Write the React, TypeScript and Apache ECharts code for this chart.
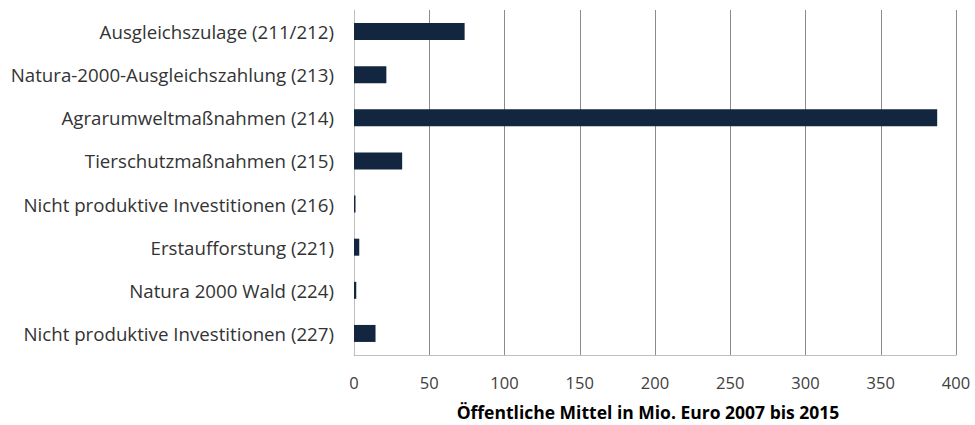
import React, { useEffect, useRef } from "react";
import * as echarts from "echarts";

const categories = [
  "Ausgleichszulage (211/212)",
  "Natura-2000-Ausgleichszahlung (213)",
  "Agrarumweltmaßnahmen (214)",
  "Tierschutzmaßnahmen (215)",
  "Nicht produktive Investitionen (216)",
  "Erstaufforstung (221)",
  "Natura 2000 Wald (224)",
  "Nicht produktive Investitionen (227)",
];
const values = [73.5, 21.5, 387.5, 32, 1, 3.5, 1.5, 14.3];
const axisTitle = "Öffentliche Mittel in Mio. Euro 2007 bis 2015";
const font = "'Open Sans', 'Noto Sans', sans-serif";

export default function App() {
  const ref = useRef<HTMLDivElement>(null);
  useEffect(() => {
    if (!ref.current) return;
    const chart = echarts.init(ref.current, null, { renderer: "svg" });
    chart.setOption({
      animation: false,
      backgroundColor: "#ffffff",
      grid: {
        left: 354,
        right: 19,
        top: 10,
        bottom: 70,
        containLabel: false,
        outerBoundsMode: "none",
      },
      xAxis: {
        type: "value",
        min: 0,
        max: 400,
        interval: 50,
        name: axisTitle,
        nameLocation: "middle",
        nameGap: 48,
        nameTextStyle: {
          fontFamily: font,
          fontSize: 17.5,
          fontWeight: "bold",
          color: "#000000",
          padding: [0, 14, 0, 0],
        },
        axisLine: { show: true, lineStyle: { color: "#bfbfbf", width: 1 } },
        axisTick: { show: false },
        axisLabel: { fontFamily: font, fontSize: 16.5, color: "#404040", margin: 19 },
        splitLine: { show: true, lineStyle: { color: "#8c8c8c", width: 1 } },
      },
      yAxis: {
        type: "category",
        data: categories,
        inverse: true,
        axisLine: { show: true, lineStyle: { color: "#bfbfbf", width: 1 } },
        axisTick: { show: false },
        axisLabel: { fontFamily: font, fontSize: 18.7, color: "#333333", margin: 20 },
        splitLine: { show: false },
      },
      series: [
        {
          type: "bar",
          data: values,
          barWidth: 17,
          itemStyle: { color: "#12263f" },
        },
      ],
    });
    return () => chart.dispose();
  }, []);
  return (
    <div
      ref={ref}
      style={{ position: "fixed", left: 0, top: 0, width: 975, height: 425 }}
    />
  );
}
